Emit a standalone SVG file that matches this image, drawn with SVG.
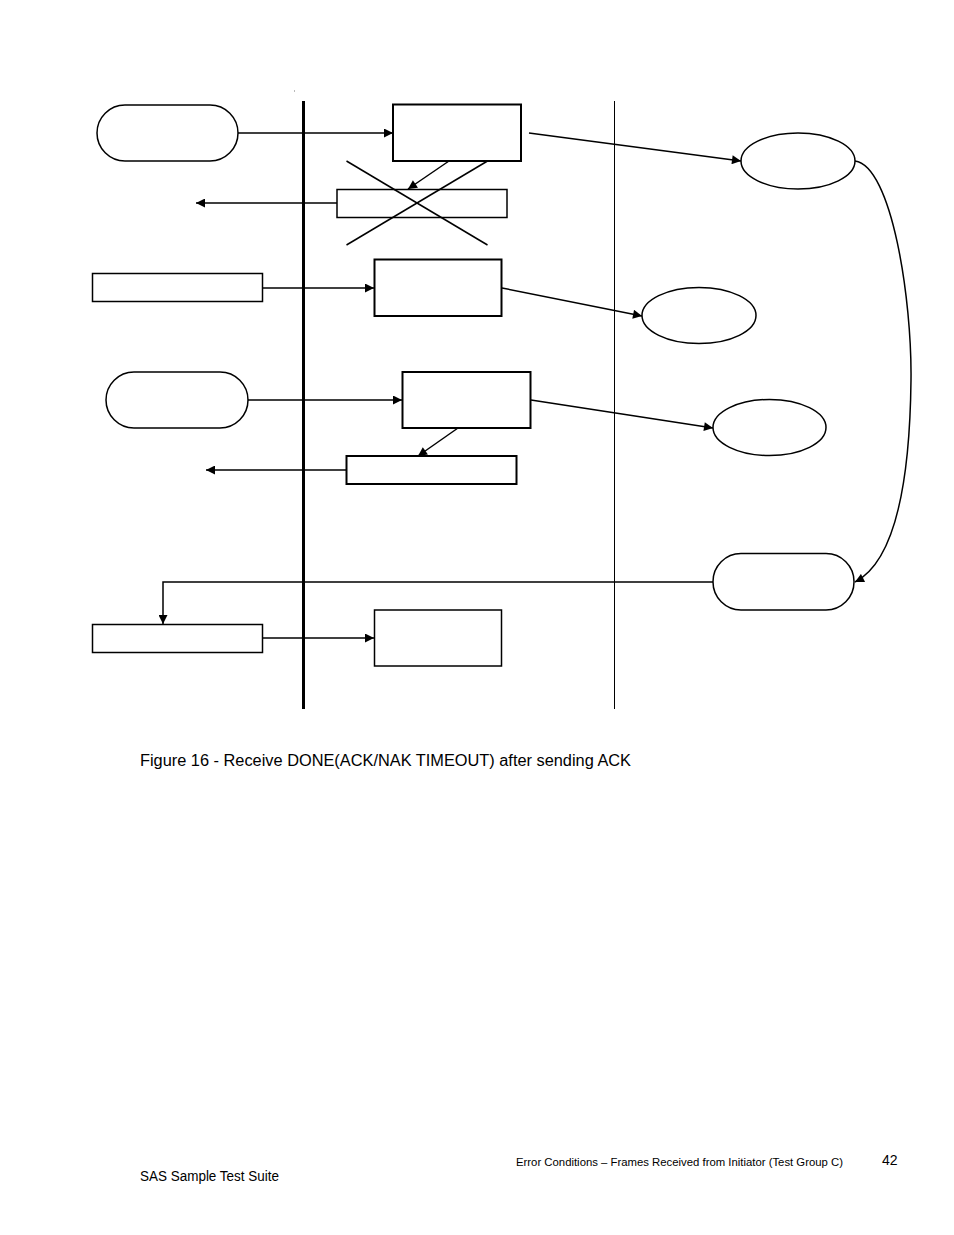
<svg xmlns="http://www.w3.org/2000/svg" width="954" height="1235" viewBox="0 0 954 1235">
<style>
.n{fill:#fff;stroke:#000;stroke-width:1.5}
.b{fill:#fff;stroke:#000;stroke-width:2}
.c{fill:none;stroke:#000;stroke-width:1.5}
.t{font-family:"Liberation Sans",Arial,sans-serif;fill:#000}
</style>
<defs>
<marker id="ah" viewBox="0 0 10 10" refX="10" refY="5" markerWidth="11" markerHeight="9" markerUnits="userSpaceOnUse" orient="auto">
<path d="M0,0 L10,5 L0,10 z" fill="#000"/>
</marker>
</defs>
<rect width="954" height="1235" fill="#fff"/>
<g id="lanes">
<line x1="303.5" y1="101" x2="303.5" y2="709" stroke="#000" stroke-width="3"/>
<line x1="614.5" y1="101" x2="614.5" y2="709" stroke="#000" stroke-width="1"/>
<rect x="294" y="90.5" width="1" height="1" fill="#777"/>
</g>
<g id="connectors">
<line class="c" x1="238" y1="133" x2="393" y2="133" marker-end="url(#ah)"/>
<line class="c" x1="449" y1="161" x2="408" y2="189" marker-end="url(#ah)"/>
<line class="c" x1="337" y1="203" x2="196" y2="203" marker-end="url(#ah)"/>
<line class="c" x1="529" y1="133" x2="741" y2="161" marker-end="url(#ah)"/>
<line class="c" x1="262" y1="288" x2="374" y2="288" marker-end="url(#ah)"/>
<line class="c" x1="502" y1="288" x2="642" y2="316" marker-end="url(#ah)"/>
<line class="c" x1="248" y1="400" x2="402" y2="400" marker-end="url(#ah)"/>
<line class="c" x1="458" y1="428" x2="418" y2="456" marker-end="url(#ah)"/>
<line class="c" x1="346" y1="470" x2="206" y2="470" marker-end="url(#ah)"/>
<line class="c" x1="531" y1="400" x2="713" y2="428" marker-end="url(#ah)"/>
<path class="c" d="M855,161 C892,166 912,300 911,380 C910,470 898,560 855,582" marker-end="url(#ah)"/>
<path class="c" d="M713,582 L163,582 L163,624" marker-end="url(#ah)"/>
<line class="c" x1="262" y1="638" x2="374" y2="638" marker-end="url(#ah)"/>
</g>
<g id="n1"><rect class="n" x="97" y="105" width="141" height="56" rx="28"/></g>
<g id="n2"><rect class="b" x="393" y="104.5" width="128" height="56.5"/></g>
<g id="n3"><rect class="n" x="337" y="189.5" width="170" height="28"/></g>
<g id="cross">
<line x1="346.5" y1="161" x2="487.5" y2="245" stroke="#000" stroke-width="1.5"/>
<line x1="487.5" y1="161" x2="346.5" y2="245" stroke="#000" stroke-width="1.5"/>
</g>
<g id="n4"><ellipse class="n" cx="798" cy="161" rx="57" ry="28"/></g>
<g id="n5"><rect class="n" x="92.5" y="273.5" width="170" height="28"/></g>
<g id="n6"><rect class="b" x="374.5" y="259.5" width="127" height="56.5"/></g>
<g id="n7"><ellipse class="n" cx="699" cy="315.5" rx="57" ry="28"/></g>
<g id="n8"><rect class="n" x="106" y="372" width="142" height="56" rx="28"/></g>
<g id="n9"><rect class="b" x="402.5" y="372" width="128" height="56"/></g>
<g id="n10"><ellipse class="n" cx="769.5" cy="427.5" rx="56.5" ry="28"/></g>
<g id="n11"><rect class="b" x="346.5" y="456" width="170" height="28"/></g>
<g id="n12"><rect class="n" x="713" y="553.5" width="141" height="56.5" rx="28"/></g>
<g id="n13"><rect class="n" x="92.5" y="624.5" width="170" height="28"/></g>
<g id="n14"><rect class="n" x="374.5" y="610" width="127" height="56"/></g>
<text class="t" x="140" y="766" font-size="16" textLength="491" lengthAdjust="spacingAndGlyphs">Figure 16 - Receive DONE(ACK/NAK TIMEOUT) after sending ACK</text>
<text class="t" x="516" y="1166" font-size="11" textLength="327" lengthAdjust="spacingAndGlyphs">Error Conditions – Frames Received from Initiator (Test Group C)</text>
<text class="t" x="882" y="1165" font-size="14">42</text>
<text class="t" x="140" y="1181" font-size="14" textLength="139" lengthAdjust="spacingAndGlyphs">SAS Sample Test Suite</text>
</svg>
